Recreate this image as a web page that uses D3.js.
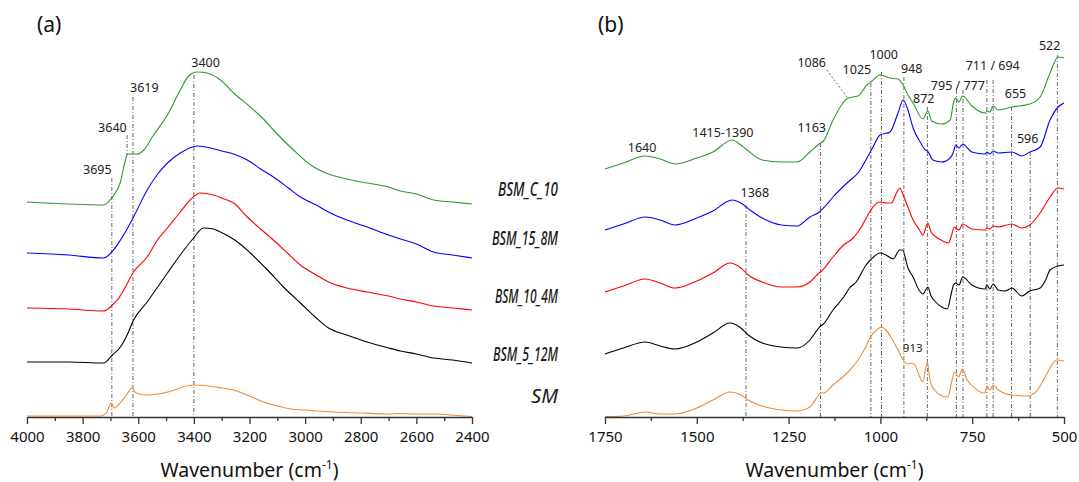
<!DOCTYPE html>
<html><head><meta charset="utf-8">
<script src="https://cdnjs.cloudflare.com/ajax/libs/d3/7.8.5/d3.min.js"></script>
<style>
html,body{margin:0;padding:0;background:#fff;}
svg{display:block;font-family:"Noto Sans",sans-serif;}
</style></head>
<body><svg id="c" width="1079" height="482"></svg>
<script>
// ---------- DATA (wavenumber cm-1, absorbance in arbitrary offset units) ----------
const seriesNames = ["BSM_C_10","BSM_15_8M","BSM_10_4M","BSM_5_12M","SM"];
const seriesColors = ["#2b9a2b","#0000ff","#ff0000","#000000","#f08a3a"];

// Panel (a): 4000–2400 cm-1
const a_C10 = [[4000,215],[3850,213],[3725,212],[3693,220],[3664,235],[3646,257],[3638,263],[3603,263],[3580,267],[3545,282],[3495,302],[3449,327],[3419,341],[3388,345],[3352,344],[3300,336],[3257,324],[3197,310],[3150,298],[3114,287],[3042,267],[2980,252],[2916,243],[2850,238],[2777,234],[2700,230],[2657,226],[2600,223],[2538,217],[2470,215],[2400,213]];
const a_15_8M = [[4000,164],[3850,162],[3725,159],[3689,167],[3664,177],[3640,188],[3617,200],[3568,227],[3530,243],[3495,254],[3449,264],[3388,271],[3340,269],[3300,266],[3257,263],[3208,257],[3160,248],[3114,240],[3060,229],[3017,220],[2960,212],[2916,205],[2850,197],[2777,190],[2700,182],[2657,178],[2600,173],[2538,165],[2470,162],[2400,159]];
const a_10_4M = [[4000,109],[3850,108],[3725,106],[3700,110],[3690,113],[3675,117],[3650,128],[3617,145],[3568,160],[3531,177],[3495,189],[3449,205],[3410,218],[3377,224],[3330,222],[3290,218],[3257,214],[3208,200],[3160,188],[3114,177],[3060,163],[3017,152],[2960,142],[2916,135],[2850,129],[2777,125],[2700,121],[2657,118],[2600,115],[2538,111],[2470,109],[2400,107]];
const a_5_12M = [[4000,55],[3850,55],[3725,54],[3693,62],[3664,70],[3640,82],[3617,97],[3568,115],[3530,130],[3495,144],[3449,162],[3401,179],[3366,189],[3330,188],[3305,185],[3270,180],[3243,175],[3197,164],[3135,147],[3078,130],[3017,114],[2960,99],[2916,89],[2850,82],[2777,75],[2700,69],[2657,66],[2600,63],[2538,59],[2470,57],[2400,54]];
const a_SM = [[4000,1],[3850,1],[3735,1],[3715,4],[3697,14],[3686,9],[3672,12],[3645,21],[3622,29],[3612,25],[3595,23],[3570,22],[3530,23],[3480,26],[3440,30],[3400,32],[3350,31],[3300,29],[3257,27],[3200,21],[3150,15],[3100,11],[3050,8],[3000,7],[2900,5],[2800,4],[2700,3],[2660,3.5],[2600,3],[2520,3],[2480,2],[2400,0.5]];

// Panel (b): 1750–500 cm-1
const b_C10 = [[1750,248],[1700,254],[1641,261],[1600,258],[1559,253],[1500,259],[1456,265],[1404,277],[1380,272],[1363,267],[1322,257],[1270,255],[1227,255],[1192,265],[1170,272],[1163,274],[1155,276],[1129,297],[1102,314],[1088,319],[1061,321],[1037,332],[1023,336],[1001,342],[974,339],[952,338],[938,332],[925,322],[911,314],[884,298],[871,306],[860,296],[833,293],[810,297],[801,314],[795,319],[786,315],[776,321],[751,311],[715,304],[710,306],[702,305],[693,311],[679,307],[642,310],[593,313],[565,320],[538,344],[516,360],[500,359]];
const b_15_8M = [[1750,187],[1700,193],[1640,200],[1600,197],[1559,192],[1500,199],[1456,206],[1404,217],[1380,214],[1355,207],[1322,199],[1270,192],[1227,191],[1192,200],[1163,206],[1150,211],[1129,220],[1088,235],[1061,244],[1023,268],[1001,282],[974,285],[952,304],[938,317],[925,307],[911,289],[890,274],[877,267],[872,266],[857,257],[833,255],[810,259],[801,265],[795,272],[786,269],[776,273],[751,265],[715,263],[710,265],[702,263],[693,266],[679,264],[642,265],[615,261],[593,265],[565,270],[538,297],[516,310],[500,314]];
const b_10_4M = [[1750,125],[1700,131],[1640,138],[1600,134],[1559,129],[1500,136],[1456,144],[1410,154],[1380,149],[1360,142],[1322,135],[1270,130],[1227,130],[1192,135],[1170,143],[1163,145],[1155,148],[1129,160],[1100,172],[1077,178],[1061,185],[1040,198],[1028,206],[1001,215],[985,214],[970,214],[955,225],[947,229],[938,222],[920,205],[911,197],[895,188],[884,182],[871,194],[862,185],[852,181],[835,177],[815,174],[806,182],[799,190],[792,188],[786,187],[776,193],[751,188],[715,187],[710,189],[702,188],[693,191],[679,190],[642,193],[615,189],[593,192],[565,204],[538,220],[516,229],[500,228]];
const b_5_12M = [[1750,63],[1700,69],[1640,75],[1600,71],[1559,68],[1500,75],[1456,84],[1410,94],[1380,89],[1360,82],[1322,74],[1270,70],[1227,69],[1192,77],[1170,88],[1163,91],[1155,93],[1129,107],[1100,120],[1084,129],[1066,135],[1039,152],[1027,157],[1001,164],[985,162],[965,158],[948,167],[940,167],[925,149],[911,140],[895,127],[884,123],[871,130],[862,121],[852,116],[833,110],[818,108],[806,125],[801,132],[795,134],[786,132],[776,140],[751,132],[715,128],[710,132],[702,128],[693,133],[679,127],[660,126],[642,129],[615,121],[593,126],[565,129],[550,137],[538,147],[516,151],[500,152]];
const b_SM = [[1750,0.5],[1700,1],[1640,5],[1600,3],[1559,3],[1500,9],[1456,17],[1410,25],[1380,22],[1360,17],[1322,11],[1270,7],[1227,6],[1192,10],[1170,21],[1163,24],[1155,24],[1129,32],[1088,45],[1061,57],[1040,70],[1024,82],[1010,87],[997,90],[985,87],[970,79],[952,67],[938,57],[925,53],[915,54],[906,52],[895,42],[884,35],[877,48],[872,55],[867,42],[861,32],[850,26],[838,22],[816,20],[806,35],[798,45],[787,40],[777,48],[765,38],[743,29],[720,24],[715,24],[710,31],[702,27],[693,32],[679,27],[642,22],[600,21],[580,24],[560,34],[538,49],[520,57],[500,56]];

const panelA = [a_C10,a_15_8M,a_10_4M,a_5_12M,a_SM];
const panelB = [b_C10,b_15_8M,b_10_4M,b_5_12M,b_SM];

// Axis ticks
const aTicks = [4000,3800,3600,3400,3200,3000,2800,2600,2400];
const aMinor = [3900,3700,3500,3300,3100,2900,2700,2500];
const bTicks = [1750,1500,1250,1000,750,500];
const bMinor = [1625,1375,1125,875,625];

// Peak marker lines: [wavenumber, top value, bottom value]
const aMarks = [[3695,239,0],[3640,282,262],[3619,320,0],[3400,342,0]];
const bMarks = [[1366,212,0],[1163,274,0],[1026,334,0],[997,345,0],[936,340,0],[872,310,0],[793,327,0],[775,327,0],[710,337,0],[693,337,0],[643,310,0],[592,265,0],[518,362,0]];
// Peak labels: [text, wavenumber (centre), value (baseline)]
const aLabels = [["3695",3747,243],["3640",3693,285],["3619",3578,325],["3400",3358,350]];
const bLabels = [["1640",1649,265],["1415-1390",1429,280],["1163",1187,285],["1086",1187,350],["1025",1064,343],["1000",991,358],["948",915,344],["872",882,314],["795 / 777",789,327],["711 / 694",694,347],["655",632,319],["596",599,274],["522",539,367],["1368",1342,220]];
const bSmallLabels = [["913",912,65]];
const bLeader = [[1146,347],[1091,320]];
// Series label baselines (value units)
const seriesLabelY = [221,172,114,56,14];

// ---------- DRAW ----------
const svg = d3.select("#c");
const xa = d3.scaleLinear().domain([4000,2400]).range([27,472]);
const xb = d3.scaleLinear().domain([1750,500]).range([605,1064]);
const y = d3.scaleLinear().domain([0,400]).range([417,17]);

function drawPanel(x, data, ticks, minor, marks, labels){
  const g = svg.append("g");
  g.selectAll("line.mk").data(marks).join("line")
    .attr("x1",d=>x(d[0])).attr("x2",d=>x(d[0]))
    .attr("y1",d=>y(d[1])).attr("y2",d=>y(d[2]))
    .attr("stroke","#6a6a6a").attr("stroke-width",1)
    .attr("stroke-dasharray","4,2,1,2");
  const line = d3.line().x(d=>x(d[0])).y(d=>y(d[1])).curve(d3.curveMonotoneX);
  g.selectAll("path.s").data(data).join("path")
    .attr("d",d=>line(d)).attr("fill","none")
    .attr("stroke",(d,i)=>seriesColors[i]).attr("stroke-width",1.1);
  g.selectAll("text.pk").data(labels).join("text")
    .attr("x",d=>x(d[1])).attr("y",d=>y(d[2]))
    .attr("text-anchor","middle").attr("font-size",12.5).attr("fill","#222")
    .text(d=>d[0]);
  const ax = g.append("g").attr("transform",`translate(0,${y(0)})`)
    .call(d3.axisBottom(x).tickValues(ticks).tickSize(7).tickSizeOuter(0).tickPadding(7).tickFormat(d3.format("d")));
  const mn = g.append("g").attr("transform",`translate(0,${y(0)})`)
    .call(d3.axisBottom(x).tickValues(minor).tickSize(4).tickSizeOuter(0).tickFormat(""));
  mn.select(".domain").remove();
  [ax,mn].forEach(a=>{a.selectAll("line").attr("stroke","#333").attr("stroke-width",1.3);});
  ax.select(".domain").attr("stroke","#333").attr("stroke-width",1.6);
  ax.selectAll("text").attr("font-size",15).attr("fill","#111").attr("font-family","Noto Sans");
  const cx = (x.range()[0]+x.range()[1])/2;
  const t = g.append("text").attr("x",cx).attr("y",477).attr("text-anchor","middle")
    .attr("font-size",19.5).attr("fill","#111");
  t.append("tspan").text("Wavenumber (cm");
  t.append("tspan").attr("font-size",12).attr("dy",-8).text("-1");
  t.append("tspan").attr("dy",8).text(")");
  return g;
}
drawPanel(xa, panelA, aTicks, aMinor, aMarks, aLabels);
const gb = drawPanel(xb, panelB, bTicks, bMinor, bMarks, bLabels);
gb.selectAll("text.sm").data(bSmallLabels).join("text")
  .attr("x",d=>xb(d[1])).attr("y",d=>y(d[2])).attr("text-anchor","middle")
  .attr("font-size",11.5).attr("fill","#222").text(d=>d[0]);
gb.append("path").attr("d",d3.line().x(d=>xb(d[0])).y(d=>y(d[1]))(bLeader))
  .attr("stroke","#6a6a6a").attr("stroke-width",1).attr("stroke-dasharray","2,2").attr("fill","none");

// series labels
const labW = [60,66,63,65,27];
svg.selectAll("text.sl").data(seriesNames).join("text")
  .attr("x",558).attr("y",(d,i)=>y(seriesLabelY[i])).attr("text-anchor","end")
  .attr("font-size",19.5).attr("font-style","italic")
  .attr("font-weight",(d,i)=>i<4?500:400).attr("fill","#1a1a1a")
  .attr("textLength",(d,i)=>labW[i]).attr("lengthAdjust","spacingAndGlyphs")
  .text(d=>d);

svg.append("text").attr("x",37).attr("y",32).attr("font-size",21).attr("fill","#111").text("(a)");
svg.append("text").attr("x",598).attr("y",32).attr("font-size",21).attr("fill","#111").text("(b)");
</script>
</body></html>
